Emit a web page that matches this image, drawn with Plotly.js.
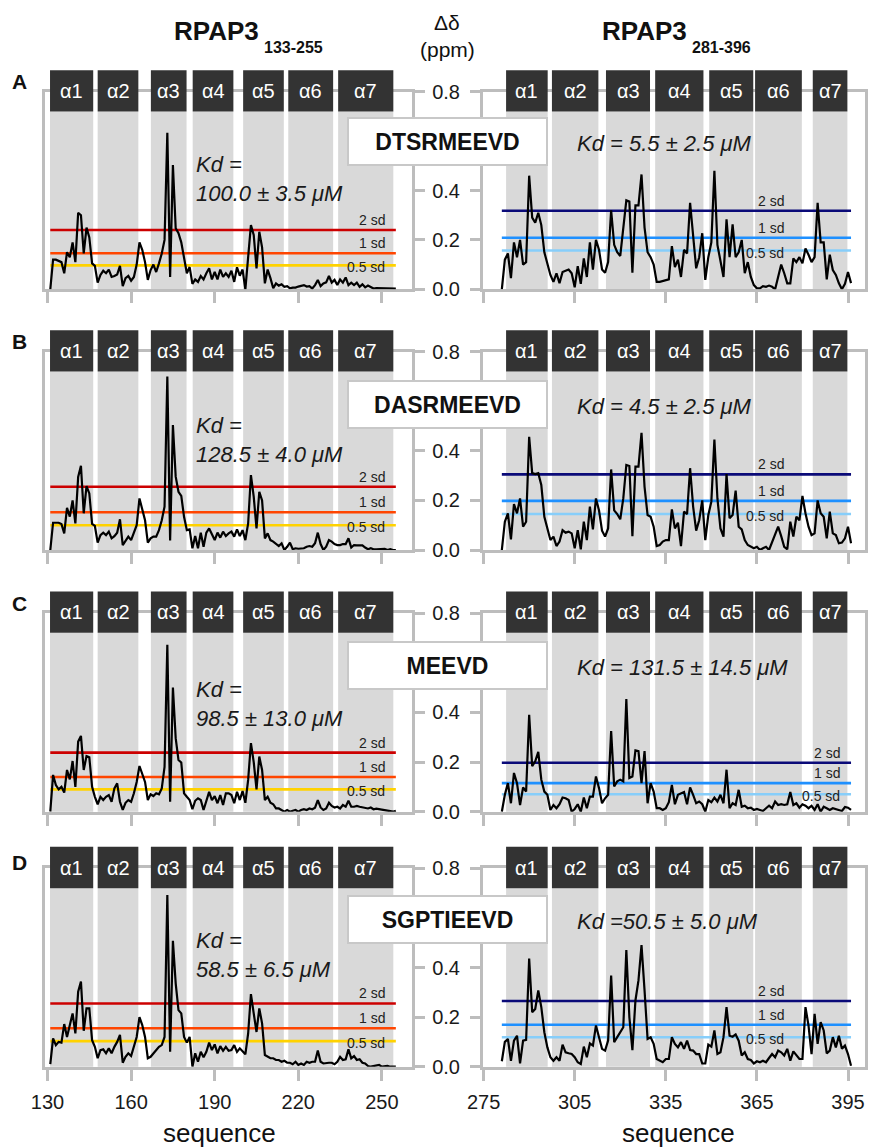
<!DOCTYPE html>
<html><head><meta charset="utf-8">
<script src="https://cdn.plot.ly/plotly-3.0.1.min.js"></script>
<style>html,body{margin:0;padding:0;background:#fff}#chart{width:871px;height:1147px}</style>
</head><body><div id="chart"></div>
<script>
// ---------------- DATA ----------------
const residuesLeft = [131,132,133,134,135,136,137,138,139,140,141,142,143,144,145,146,147,148,149,150,151,152,153,154,155,156,157,158,159,160,161,162,163,164,165,166,167,168,169,170,171,172,173,174,175,176,177,178,179,180,181,182,183,184,185,186,187,188,189,190,191,192,193,194,195,196,197,198,199,200,201,202,203,204,205,206,207,208,209,210,211,212,213,214,215,216,217,218,219,220,221,222,223,224,225,226,227,228,229,230,231,232,233,234,235,236,237,238,239,240,241,242,243,244,245,246,247,248,249,250,251,252,253,254,255];
const residuesRight = [281,282,283,284,285,286,287,288,289,290,291,292,293,294,295,296,297,298,299,300,301,302,303,304,305,306,307,308,309,310,311,312,313,314,315,316,317,318,319,320,321,322,323,324,325,326,327,328,329,330,331,332,333,334,335,336,337,338,339,340,341,342,343,344,345,346,347,348,349,350,351,352,353,354,355,356,357,358,359,360,361,362,363,364,365,366,367,368,369,370,371,372,373,374,375,376,377,378,379,380,381,382,383,384,385,386,387,388,389,390,391,392,393,394,395,396];

// chemical shift perturbation (ppm), RPAP3 133-255
const leftA = [0,0.12,0.12,0.115,0.11,0.065,0.15,0.13,0.19,0.11,
0.31,0.30,0.145,0.25,0.21,0.105,0.095,0.027,0.058,0.075,
0.065,0.08,0.05,0.054,0.06,0.095,0.013,0.045,0.054,0.035,
0.05,0.1,0.19,0.16,0.11,0.038,0.078,0.1,0.07,0.105,
0.145,0.2,0.634,0.05,0.503,0.247,0.227,0.19,0.132,0.065,
0.09,0.022,0.04,0.03,0.054,0.04,0.065,0.085,0.04,0.07,
0.04,0.08,0.05,0.065,0.05,0.075,0.03,0.089,0.055,0.08,
0.0,0.12,0.26,0.22,0.085,0.233,0.17,0.024,0.08,0.045,
0.004,0.024,0.015,0.02,0.01,0.013,0.004,0.007,0.007,0.011,
0.013,0.017,0.011,0.013,0.003,0.017,0.038,0.013,0.024,0.028,
0.054,0.027,0.038,0.017,0.04,0.027,0.048,0.017,0.027,0.017,
0.027,0.01,0.02,0.008,0.015,0.008,0.003,0.005,0.005,0.005,
0.004,0.005,0.004,0.003,0.003];
const leftB = [0,0.11,0.11,0.11,0.105,0.067,0.17,0.135,0.2,0.107,
0.295,0.34,0.148,0.258,0.228,0.105,0.097,0.03,0.06,0.07,
0.06,0.074,0.047,0.056,0.07,0.124,0.02,0.04,0.054,0.04,
0.067,0.1,0.208,0.168,0.12,0.03,0.047,0.054,0.054,0.08,
0.12,0.175,0.7,0.038,0.504,0.296,0.235,0.218,0.134,0.08,
0.083,0.007,0.056,0.007,0.07,0.013,0.07,0.087,0.06,0.04,
0.07,0.05,0.074,0.056,0.067,0.074,0.054,0.083,0.056,0.08,
0.04,0.107,0.302,0.215,0.087,0.235,0.2,0.047,0.067,0.04,
0.034,0.024,0.016,0.027,0.0,0.013,0.03,0.003,0.007,0.005,
0.005,0.007,0.013,0.016,0.013,0.027,0.07,0.024,0.0,0.013,
0.04,0.034,0.024,0.02,0.02,0.024,0.024,0.047,0.01,0.02,
0.019,0.019,0.019,0.01,0.003,0.007,0.003,0.003,0.003,0.003,
0.005,0.0,0.003,0.0,0.0];
const leftC = [0,0.148,0.107,0.09,0.1,0.077,0.168,0.13,0.204,0.1,
0.282,0.305,0.168,0.224,0.219,0.1,0.06,0.03,0.06,0.047,
0.06,0.067,0.04,0.094,0.114,0.04,0.007,0.036,0.047,0.04,
0.074,0.12,0.184,0.155,0.12,0.047,0.07,0.063,0.074,0.07,
0.094,0.18,0.672,0.04,0.5,0.296,0.208,0.198,0.074,0.06,
0.047,0.01,0.044,0.054,0.047,0.007,0.047,0.08,0.047,0.063,
0.034,0.067,0.027,0.074,0.074,0.067,0.034,0.08,0.047,0.083,
0.036,0.128,0.276,0.2,0.09,0.222,0.168,0.047,0.06,0.036,
0.03,0.013,0.013,0.007,0.0,0.007,0.0,0.004,0.007,0.0,
0.007,0.01,0.007,0.013,0.01,0.016,0.047,0.017,0.007,0.013,
0.036,0.023,0.017,0.02,0.013,0.027,0.02,0.044,0.02,0.02,
0.023,0.02,0.017,0.013,0.013,0.017,0.01,0.012,0.01,0.007,
0.007,0.004,0.004,0.0,0.004];
const leftD = [0.01,0.114,0.087,0.1,0.097,0.172,0.12,0.168,0.215,0.134,
0.302,0.343,0.145,0.235,0.235,0.107,0.08,0.034,0.067,0.07,
0.054,0.074,0.054,0.08,0.1,0.128,0.016,0.04,0.054,0.043,
0.08,0.12,0.2,0.168,0.12,0.034,0.04,0.054,0.067,0.08,
0.087,0.12,0.692,0.06,0.508,0.336,0.228,0.215,0.12,0.097,
0.12,0.0,0.054,0.02,0.06,0.038,0.06,0.097,0.067,0.09,
0.054,0.083,0.064,0.08,0.064,0.067,0.087,0.06,0.074,0.06,
0.05,0.134,0.293,0.215,0.14,0.235,0.175,0.047,0.04,0.034,
0.034,0.027,0.027,0.02,0.024,0.016,0.016,0.01,0.02,0.007,
0.013,0.007,0.02,0.016,0.02,0.02,0.065,0.02,0.013,0.016,
0.016,0.016,0.01,0.02,0.04,0.027,0.03,0.07,0.034,0.043,
0.027,0.03,0.016,0.013,0.003,0.0,0.003,0.003,0.007,0.0,
0.003,0.003,0.0,0.0,0.0];

// chemical shift perturbation (ppm), RPAP3 281-396
const rightA = [0,0.12,0.145,0.045,0.19,0.13,0.2,0.1,0.11,0.46,
0.29,0.27,0.31,0.26,0.15,0.105,0.058,0.03,0.065,0.025,
0.07,0.075,0.08,0.065,0.008,0.094,0.022,0.125,0.05,0.19,
0.08,0.2,0.16,0.08,0.067,0.11,0.32,0.18,0.15,0.135,
0.25,0.36,0.355,0.067,0.34,0.34,0.465,0.25,0.15,0.13,
0.1,0.03,0.03,0.034,0.038,0.04,0.175,0.09,0.12,0.05,
0.16,0.145,0.35,0.2,0.085,0.13,0.227,0.038,0.13,0.19,
0.48,0.18,0.108,0.05,0.283,0.13,0.263,0.13,0.15,0.2,
0.065,0.11,0.05,0.017,0.004,0.004,0.013,0.01,0.015,0.01,
0.0,0.05,0.1,0.065,0.024,0.024,0.125,0.11,0.13,0.105,
0.165,0.14,0.11,0.13,0.35,0.19,0.19,0.04,0.14,0.078,
0.058,0.024,0.0,0.022,0.07,0.025];
const rightB = [0,0.114,0.148,0.043,0.185,0.148,0.208,0.094,0.114,0.457,
0.31,0.306,0.31,0.262,0.134,0.087,0.04,0.054,0.016,0.034,
0.08,0.07,0.074,0.067,0.007,0.08,0.003,0.114,0.04,0.175,
0.083,0.208,0.16,0.078,0.054,0.087,0.325,0.16,0.145,0.124,
0.208,0.343,0.339,0.056,0.336,0.336,0.473,0.255,0.141,0.134,
0.094,0.016,0.02,0.034,0.04,0.04,0.164,0.087,0.11,0.016,
0.155,0.145,0.33,0.175,0.078,0.12,0.2,0.04,0.141,0.195,
0.446,0.208,0.087,0.054,0.306,0.128,0.141,0.24,0.094,0.083,
0.04,0.02,0.013,0.007,0.013,0,0.007,0.013,0,0.03,
0.067,0.094,0.056,0.013,0.003,0.114,0.054,0.134,0.12,0.218,
0.148,0.094,0.06,0.067,0.2,0.148,0.134,0.047,0.155,0.067,
0.06,0.027,0.03,0.047,0.094,0.027];
const rightC = [0,0.068,0.115,0.034,0.156,0.115,0.027,0.098,0.081,0.39,
0.183,0.203,0.241,0.129,0.081,0.068,0.007,0.027,0.014,0.03,
0.057,0.054,0.047,0,0.011,0.03,0,0.057,0.014,0.061,
0.061,0.142,0.095,0.034,0.054,0.068,0.325,0.102,0.122,0.129,
0.122,0.454,0.136,0.142,0.247,0.244,0.115,0.244,0.034,0.115,
0.081,0.014,0.014,0.007,0.014,0.038,0.108,0.03,0.068,0.075,
0.079,0.03,0.098,0.068,0.034,0.041,0.03,0,0.047,0.038,
0.057,0.041,0.068,0.034,0.169,0.014,0.034,0.027,0.088,0.02,
0.024,0.014,0.016,0.007,0.011,0.007,0.003,0.014,0.024,0.014,
0.041,0.027,0.03,0.027,0.03,0.079,0.027,0.034,0.016,0.03,
0.024,0.014,0.024,0.007,0.03,0,0.02,0.014,0.007,0.014,
0.011,0.007,0.003,0.019,0.016,0.007];
const rightD = [0.022,0.1,0.112,0.024,0.105,0.125,0.013,0.105,0.108,0.436,
0.22,0.233,0.308,0.24,0.139,0.078,0.038,0.024,0.038,0.024,
0.089,0.058,0.054,0.051,0.038,0.018,0.011,0.081,0.038,0.094,
0.085,0.166,0.119,0.072,0.065,0.105,0.368,0.099,0.119,0.139,
0.159,0.47,0.2,0.067,0.267,0.348,0.49,0.308,0.112,0.119,
0.092,0.031,0.024,0.018,0.031,0.031,0.119,0.092,0.078,0.099,
0.072,0.105,0.067,0.065,0.051,0.051,0.013,0.013,0.089,0.081,
0.146,0.051,0.058,0.119,0.24,0.125,0.121,0.13,0.105,0.045,
0.058,0.031,0.027,0.013,0.022,0.018,0.024,0.018,0.035,0.051,
0.038,0.065,0.058,0.045,0.072,0.024,0.062,0.045,0.031,0.031,
0.24,0.166,0.051,0.213,0.092,0.18,0.146,0.054,0.065,0.119,
0.078,0.125,0.072,0.085,0.051,0.004];

// standard deviation thresholds [2 sd, 1 sd, 0.5 sd]
const sdLeft  = [[0.24,0.146,0.097],[0.255,0.152,0.1],[0.238,0.14,0.09],[0.255,0.155,0.103]];
const sdRight = [[0.318,0.209,0.157],[0.305,0.198,0.145],[0.197,0.115,0.07],[0.265,0.169,0.119]];
const sdLabels = ['2 sd','1 sd','0.5 sd'];

// helices (residue boundaries)
const helixLabels = ['α1','α2','α3','α4','α5','α6','α7'];
const helixStartLeft  = [130.9,148.0,167.1,182.1,200.2,216.4,234.3];
const helixEndLeft    = [146.4,162.6,179.9,196.7,214.8,232.5,254.1];
const helixStartRight = [282.4,297.5,315.3,331.5,349.3,364.4,383.4];
const helixEndRight   = [296.1,312.8,329.8,347.4,363.8,379.8,394.8];

const peptides = ['DTSRMEEVD','DASRMEEVD','MEEVD','SGPTIEEVD'];
const panelLetters = ['A','B','C','D'];
const kdLeft  = ['Kd =<br>100.0 ± 3.5 μM','Kd =<br>128.5 ± 4.0 μM','Kd =<br>98.5 ± 13.0 μM','Kd =<br>58.5 ± 6.5 μM'];
const kdRight = ['Kd = 5.5 ± 2.5 μM','Kd = 4.5 ± 2.5 μM','Kd = 131.5 ± 14.5 μM','Kd =50.5 ± 5.0 μM'];
const xTicksLeft  = [130,160,190,220,250];
const xTicksRight = [275,305,335,365,395];
const yTicks = [0,0.2,0.4,0.6,0.8];
const yTickText = ['0.0','0.2','0.4','','0.8'];   // 0.6 label is hidden behind the peptide box

// ---------------- LAYOUT / STYLE ----------------
const W = 871, H = 1147;
const FONT = '"Liberation Sans", Arial, Helvetica, sans-serif';
const FRAME = '#bdbdbd', BAND = '#d9d9d9', BOX = '#333333', TXT = '#1a1a1a';
const sdColorsLeft  = ['#cc0000','#ff4500','#ffd200'];
const sdColorsRight = ['#0a0a78','#1e90ff','#87cefa'];
const rowTop = [91.7, 351.7, 613, 868.3];
const rowBot = [289.3, 550, 811.7, 1066.7];
const colL = [45, 483], colR = [412, 865];
const xRangeLeft = [129.1, 260.8], xRangeRight = [274.8, 400.6];
const boxCenterY = [142, 404, 665, 919];
const letterY = [81, 341, 603, 862];
const kdLeftY = [0.445, 0.445, 0.435, 0.45];
const kdRightY = [0.59, 0.578, 0.582, 0.585];
const sdLabelXRight = [374.5, 374.5, 393, 374.5];
const px = v => v / W, py = v => 1 - v / H;

const leftSeries = [leftA, leftB, leftC, leftD];
const rightSeries = [rightA, rightB, rightC, rightD];

const traces = [], shapes = [], annotations = [];
const layout = {
  width: W, height: H, margin: {l:0, r:0, t:0, b:0},
  paper_bgcolor: '#ffffff', plot_bgcolor: 'rgba(0,0,0,0)',
  showlegend: false, hovermode: false,
  font: {family: FONT, color: TXT}
};

for (let r = 0; r < 4; r++) {
  for (let c = 0; c < 2; c++) {
    const k = 2 * r + c + 1;
    const sfx = k === 1 ? '' : String(k);
    const xa = 'x' + sfx, ya = 'y' + sfx;
    const left = c === 0;
    const xs = left ? residuesLeft : residuesRight;
    const ys = left ? leftSeries[r] : rightSeries[r];
    const sd = left ? sdLeft[r] : sdRight[r];
    const sdCol = left ? sdColorsLeft : sdColorsRight;

    layout['xaxis' + sfx] = {
      domain: [px(colL[c]), px(colR[c])], range: left ? xRangeLeft : xRangeRight,
      anchor: ya, showline: true, mirror: true, linecolor: FRAME, linewidth: 3,
      ticks: 'outside', ticklen: 11, tickwidth: 3, tickcolor: FRAME,
      tickmode: 'array', tickvals: left ? xTicksLeft : xTicksRight,
      showticklabels: r === 3, tickfont: {size: 20, color: TXT, family: FONT},
      ticklabelstandoff: 4,
      showgrid: false, zeroline: false, fixedrange: true, layer: 'below traces'
    };
    layout['yaxis' + sfx] = {
      domain: [py(rowBot[r]), py(rowTop[r])], range: [0, 0.8],
      anchor: xa, side: left ? 'right' : 'left',
      showline: true, mirror: true, linecolor: FRAME, linewidth: 3,
      ticks: 'outside', ticklen: 10, tickwidth: 3, tickcolor: FRAME,
      tickmode: 'array', tickvals: yTicks, ticktext: yTickText,
      showticklabels: !left, tickfont: {size: 20, color: TXT, family: FONT},
      ticklabelstandoff: 6,
      showgrid: false, zeroline: false, fixedrange: true, layer: 'below traces'
    };

    // sd threshold lines
    for (let s = 0; s < 3; s++) {
      traces.push({
        type: 'scatter', mode: 'lines', xaxis: xa, yaxis: ya,
        x: [xs[0], xs[xs.length - 1]], y: [sd[s], sd[s]],
        line: {color: sdCol[s], width: 2.6}, hoverinfo: 'skip'
      });
      annotations.push({
        xref: xa, yref: ya, x: left ? 252 : sdLabelXRight[r], y: sd[s],
        xanchor: 'right', yanchor: s === 2 ? 'middle' : 'bottom', yshift: s === 2 ? -2 : 0,
        text: sdLabels[s], showarrow: false, font: {size: 14, color: '#222', family: FONT}
      });
    }
    // data line
    traces.push({
      type: 'scatter', mode: 'lines', xaxis: xa, yaxis: ya,
      x: xs, y: ys, line: {color: '#000000', width: 2.2}, hoverinfo: 'skip'
    });

    // helices
    const hs = left ? helixStartLeft : helixStartRight;
    const he = left ? helixEndLeft : helixEndRight;
    for (let h = 0; h < hs.length; h++) {
      shapes.push({type: 'rect', xref: xa, yref: ya + ' domain', x0: hs[h], x1: he[h], y0: 0, y1: 0.9,
        fillcolor: BAND, line: {width: 0}, layer: 'below'});
      shapes.push({type: 'rect', xref: xa, yref: ya + ' domain', x0: hs[h], x1: he[h], y0: 0.9, y1: 1.108,
        fillcolor: BOX, line: {width: 0}, layer: 'above'});
      annotations.push({xref: xa, yref: ya + ' domain', x: (hs[h] + he[h]) / 2, y: 1.004,
        xanchor: 'center', yanchor: 'middle', text: helixLabels[h], showarrow: false,
        font: {size: 20, color: '#ffffff', family: FONT}});
    }

    // Kd text
    annotations.push({
      xref: xa, yref: ya, x: left ? 182.7 : 305.1, y: left ? kdLeftY[r] : kdRightY[r],
      xanchor: 'left', yanchor: 'middle', align: 'left', showarrow: false,
      text: '<i>' + (left ? kdLeft[r] : kdRight[r]) + '</i>',
      font: {size: 22, color: TXT, family: FONT}
    });
  }
  // peptide box
  annotations.push({
    xref: 'paper', yref: 'paper', x: px(447.5), y: py(boxCenterY[r]),
    xanchor: 'center', yanchor: 'middle', showarrow: false,
    text: '<b>' + peptides[r] + '</b>', font: {size: 23, color: '#111', family: FONT},
    bgcolor: '#ffffff', bordercolor: '#c8c8c8', borderwidth: 2, borderpad: 0,
    width: 197, height: 45
  });
  // panel letter
  annotations.push({
    xref: 'paper', yref: 'paper', x: px(19), y: py(letterY[r]),
    xanchor: 'center', yanchor: 'middle', showarrow: false,
    text: '<b>' + panelLetters[r] + '</b>', font: {size: 21, color: '#111', family: FONT}
  });
}

// headers
function addText(x, y, text, size, xanchor) {
  annotations.push({xref: 'paper', yref: 'paper', x: px(x), y: py(y), xanchor: xanchor || 'center',
    yanchor: 'middle', showarrow: false, text: text, font: {size: size, color: '#111', family: FONT}});
}
addText(261, 31, '<b>RPAP3</b>', 26, 'right');
addText(262, 47, '<b>133-255</b>', 16, 'left');
addText(689, 31, '<b>RPAP3</b>', 26, 'right');
addText(690, 47, '<b>281-396</b>', 16, 'left');
addText(447, 22, 'Δδ', 21);
addText(447, 50, '(ppm)', 21);
addText(220, 1133, 'sequence', 26);
addText(678, 1133, 'sequence', 26);

layout.shapes = shapes;
layout.annotations = annotations;

Plotly.newPlot('chart', traces, layout, {staticPlot: true, displayModeBar: false});
</script>
</body></html>
